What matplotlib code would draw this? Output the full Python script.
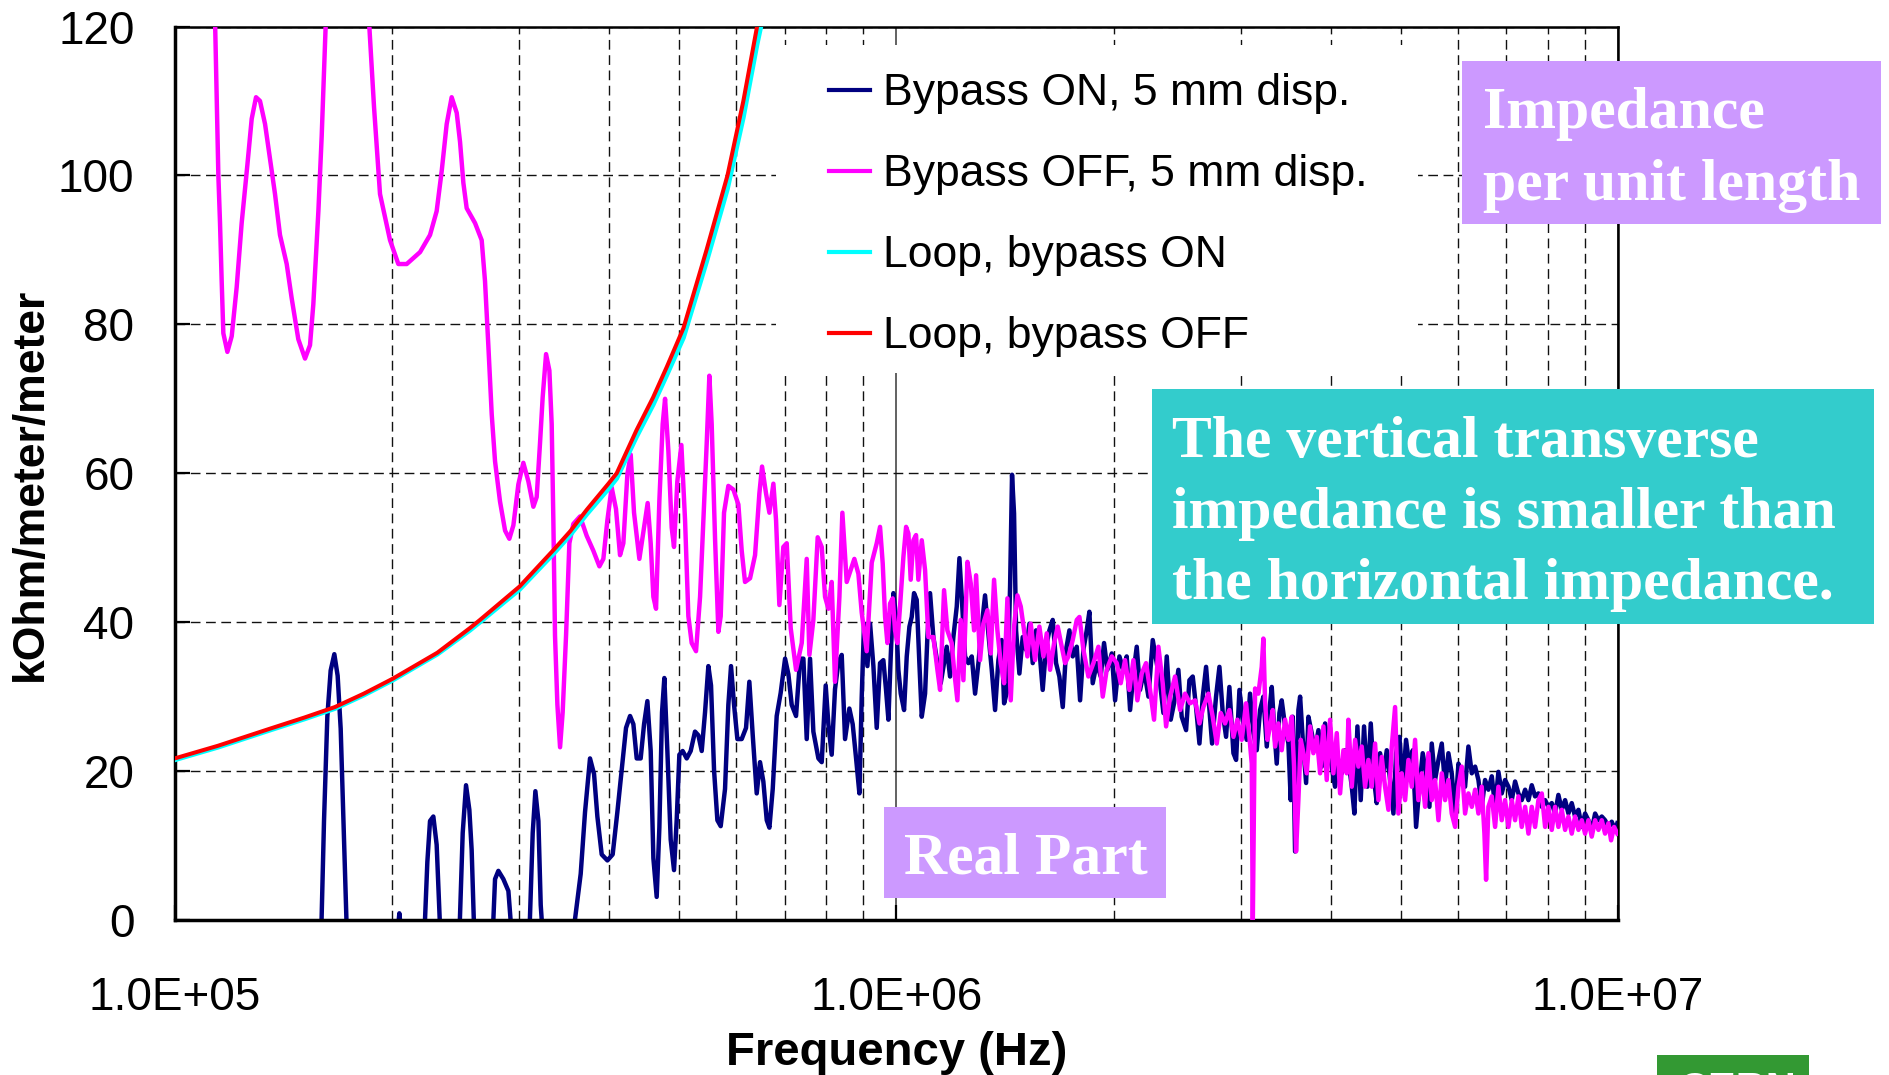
import numpy as np
import matplotlib
matplotlib.use('Agg')
import matplotlib.pyplot as plt
from matplotlib.patches import Rectangle
from matplotlib.lines import Line2D
from matplotlib.ticker import FixedLocator, FuncFormatter

plt.rcParams['font.family'] = ['Liberation Sans', 'DejaVu Sans']

# frequencies are kept as log10(f / Hz), impedance in kOhm/meter/meter
loop_logf = [5.000, 5.060, 5.129, 5.180, 5.222, 5.262, 5.302, 5.364, 5.409, 5.423,
             5.478, 5.525, 5.548, 5.571, 5.601, 5.6125, 5.640, 5.663, 5.682, 5.705,
             5.737, 5.766, 5.788, 5.807, 5.820]
loop_on = [21.5, 23.2, 25.4, 27.0, 28.4, 30.2, 32.2, 35.7, 38.9, 40.0,
           44.4, 49.2, 51.7, 54.5, 57.9, 59.3, 64.9, 69.2, 73.2, 78.2,
           88.4, 98.2, 107.8, 117.6, 123.5]
loop_off = [21.7, 23.4, 25.6, 27.2, 28.6, 30.4, 32.4, 35.9, 39.2, 40.3,
            44.8, 49.7, 52.2, 55.1, 58.6, 60.0, 65.8, 70.2, 74.3, 79.5,
            90.0, 100.0, 110.0, 120.0, 126.0]

on_logf = [
    5.0000, 5.2030, 5.2069, 5.2115, 5.2161, 5.2212, 5.2258, 5.2300, 5.2337, 5.2383,
    5.2450, 5.3050, 5.3095, 5.3113, 5.3132, 5.3200, 5.3420, 5.3460, 5.3501, 5.3538,
    5.3584, 5.3630, 5.3677, 5.3750, 5.3900, 5.3945, 5.3991, 5.4037, 5.4083, 5.4115,
    5.4148, 5.4250, 5.4370, 5.4407, 5.4439, 5.4485, 5.4554, 5.4624, 5.4670, 5.4720,
    5.4880, 5.4915, 5.4961, 5.4998, 5.5040, 5.5072, 5.5100, 5.5150, 5.5480, 5.5520,
    5.5626, 5.5686, 5.5755, 5.5811, 5.5857, 5.5917, 5.5996, 5.6069, 5.6134, 5.6194,
    5.6254, 5.6310, 5.6356, 5.6402, 5.6457, 5.6504, 5.6550, 5.6596, 5.6633, 5.6679,
    5.6716, 5.6753, 5.6785, 5.6827, 5.6873, 5.6919, 5.6956, 5.6993, 5.7039, 5.7095,
    5.7150, 5.7210, 5.7257, 5.7303, 5.7349, 5.7395, 5.7432, 5.7474, 5.7520, 5.7566,
    5.7626, 5.7672, 5.7709, 5.7751, 5.7797, 5.7857, 5.7917, 5.7963, 5.8010, 5.8065,
    5.8111, 5.8157, 5.8204, 5.8241, 5.8287, 5.8342, 5.8397, 5.8458, 5.8504, 5.8550,
    5.8610, 5.8666, 5.8712, 5.8758, 5.8804, 5.8850, 5.8920, 5.8966, 5.9021, 5.9058,
    5.9104, 5.9150, 5.9197, 5.9243, 5.9289, 5.9349, 5.9395, 5.9442, 5.9488, 5.9520,
    5.9552, 5.9599, 5.9636, 5.9682, 5.9728,
    5.9774, 5.9820, 5.9857, 5.9890, 5.9922, 5.9959, 5.9996, 6.0028, 6.0061, 6.0107,
    6.0144, 6.0181, 6.0213, 6.0245, 6.0282, 6.0319, 6.0352, 6.0398, 6.0430, 6.0467,
    6.0513, 6.0569, 6.0615, 6.0661, 6.0698, 6.0744, 6.0790, 6.0837, 6.0874, 6.0906,
    6.0952, 6.0998, 6.1045, 6.1091, 6.1137, 6.1183, 6.1229, 6.1275, 6.1322, 6.1368,
    6.1414, 6.1460, 6.1493, 6.1539, 6.1576, 6.1603, 6.1631, 6.1659, 6.1705, 6.1751,
    6.1797, 6.1844, 6.1890, 6.1936, 6.1982, 6.2028, 6.2075, 6.2121, 6.2167, 6.2213,
    6.2259, 6.2306, 6.2352, 6.2398, 6.2444, 6.2500, 6.2546, 6.2592, 6.2638, 6.2675,
    6.2721, 6.2777, 6.2832, 6.2878, 6.2924, 6.2985, 6.3031, 6.3091, 6.3146, 6.3192,
    6.3239, 6.3285, 6.3331, 6.3377, 6.3433, 6.3493, 6.3553, 6.3608, 6.3654, 6.3701,
    6.3747, 6.3802, 6.3848, 6.3908, 6.3954, 6.4015, 6.4061, 6.4107, 6.4153, 6.4200,
    6.4246, 6.4292, 6.4338, 6.4375, 6.4430, 6.4477, 6.4523, 6.4569, 6.4615, 6.4671,
    6.4708, 6.4754, 6.4809, 6.4855, 6.4901,
    6.4948, 6.4994, 6.5040, 6.5086, 6.5133, 6.5170, 6.5202, 6.5234, 6.5271, 6.5308,
    6.5340, 6.5387, 6.5433, 6.5465, 6.5493, 6.5525, 6.5571, 6.5595, 6.5632, 6.5678,
    6.5710, 6.5756, 6.5802, 6.5849, 6.5895, 6.5941, 6.5987, 6.6033, 6.6079, 6.6126,
    6.6172, 6.6218, 6.6264, 6.6311, 6.6347, 6.6389, 6.6435, 6.6481, 6.6528, 6.6574,
    6.6620, 6.6657, 6.6703, 6.6749, 6.6796, 6.6842, 6.6888, 6.6925, 6.6971, 6.7017,
    6.7063, 6.7110, 6.7156, 6.7202, 6.7248, 6.7294, 6.7341, 6.7387, 6.7419, 6.7465,
    6.7512, 6.7558, 6.7604, 6.7650, 6.7696, 6.7743, 6.7789, 6.7835, 6.7881, 6.7927,
    6.7974, 6.8020, 6.8066, 6.8112, 6.8158, 6.8204, 6.8251, 6.8297, 6.8343, 6.8389,
    6.8435, 6.8482, 6.8528, 6.8574, 6.8620, 6.8666, 6.8713, 6.8759, 6.8805, 6.8851,
    6.8897, 6.8944, 6.8990, 6.9036, 6.9082, 6.9128, 6.9174, 6.9221, 6.9267, 6.9313,
    6.9359, 6.9405, 6.9452, 6.9498, 6.9544, 6.9590, 6.9636, 6.9683, 6.9729, 6.9775,
    6.9821, 6.9867, 6.9913, 6.9960, 6.9990]
on_z = [
    -10, -2, 13.3, 27.3, 33.5, 35.7, 32.8, 25.7, 14.0, -1.0,
    -10, -10, -1.0, 0.9, -1.0, -10, -10, -2, 7.8, 13.3,
    13.9, 10.1, -1.0, -10, -10, -2, 11.7, 18.1, 14.8, 9.4,
    -1.0, -10, -10, -2, 5.5, 6.6, 5.5, 3.9, -2, -10,
    -10, -2, 11.7, 17.3, 13.3, 2.0, -2, -10, -10, -2,
    6.2, 14.5, 21.7, 19.6, 13.9, 8.8, 8.0, 8.8, 14.5, 20.1,
    25.8, 27.4, 26.3, 21.7, 21.7, 26.3, 29.4, 22.7, 8.3, 3.1,
    12.4, 27.9, 32.5, 22.7, 10.8, 6.7, 13.4, 22.2, 22.7, 21.7,
    22.7, 25.3, 24.8, 22.7, 27.9, 34.1, 31.5, 20.1, 13.4, 12.6,
    17.6, 28.9, 34.1, 28.9, 24.3, 24.3, 25.8, 32.0, 24.8, 17.0,
    21.2, 18.6, 13.4, 12.4, 17.6, 27.4, 30.5, 35.1, 33.0, 28.9,
    27.4, 35.1, 35.1, 24.3, 35.1, 25.3, 21.7, 21.2, 31.5, 26.3,
    22.2, 31.0, 34.6, 35.6, 24.3, 28.4, 26.3, 21.7, 17.0, 29.9,
    39.8, 34.1, 39.8, 34.1, 25.8,
    34.5, 34.9, 30.9, 26.9, 35.4, 43.9, 40.7, 33.6, 30.4, 28.2,
    35.4, 39.4, 40.7, 43.9, 43.0, 34.5, 27.3, 30.4, 38.0, 43.9,
    38.0, 34.5, 31.8, 34.5, 36.7, 32.7, 38.0, 42.1, 48.6, 43.4,
    35.4, 34.5, 35.4, 30.4, 34.5, 39.4, 43.6, 38.5, 33.6, 28.2,
    34.9, 37.6, 29.1, 30.9, 44.8, 59.8, 54.6, 38.9, 33.1, 38.0,
    36.3, 39.8, 34.5, 38.9, 36.3, 30.9, 36.7, 38.9, 40.3, 34.5,
    32.7, 28.6, 36.3, 38.9, 35.4, 36.7, 29.5, 36.3, 38.9, 41.4,
    31.8, 34.5, 32.7, 37.2, 33.6, 35.8, 29.5, 35.4, 33.6, 35.4,
    28.2, 33.1, 36.7, 30.9, 33.6, 30.0, 37.6, 34.5, 31.8, 27.8,
    35.4, 26.9, 29.1, 33.6, 27.3, 25.5, 32.2, 32.7, 28.6, 23.7,
    30.0, 34.0, 28.2, 23.7, 30.0, 34.0, 27.8, 24.6, 31.3, 22.4,
    21.5, 30.9, 26.4, 24.2, 30.4,
    25.1, 22.8, 28.2, 30.0, 23.3, 28.2, 31.3, 26.0, 21.0, 27.8,
    29.5, 26.0, 23.7, 16.1, 27.3, 9.2, 28.2, 30.0, 24.2, 18.4,
    27.3, 25.1, 22.8, 25.5, 20.6, 26.4, 22.8, 20.6, 17.9, 21.5,
    19.7, 22.8, 21.5, 17.9, 14.3, 26.0, 16.1, 26.0, 17.9, 26.4,
    18.8, 15.7, 22.4, 19.7, 22.8, 18.8, 14.3, 22.4, 24.6, 17.9,
    24.2, 20.6, 22.8, 12.5, 17.9, 22.4, 19.7, 15.2, 23.7, 18.8,
    21.5, 23.7, 17.9, 22.4, 19.7, 14.3, 21.0, 19.7, 17.9, 23.3,
    19.7, 20.6, 18.8, 15.2, 18.8, 17.5, 19.3, 15.2, 19.9, 17.0,
    18.8, 17.9, 16.1, 18.6, 17.0, 16.1, 17.5, 16.1, 18.1, 16.6,
    17.0, 15.2, 16.1, 15.2, 15.7, 14.3, 16.8, 14.8, 16.1, 14.3,
    15.7, 13.9, 14.8, 12.5, 14.3, 13.4, 12.1, 14.3, 13.4, 13.9,
    13.4, 12.5, 13.2, 12.1, 13.0]

off_logf = [
    5.0550, 5.0605, 5.0628, 5.0651, 5.0674, 5.0730, 5.0790, 5.0859, 5.0928, 5.1007,
    5.1067, 5.1127, 5.1182, 5.1252, 5.1321, 5.1390, 5.1459, 5.1552, 5.1621, 5.1713,
    5.1806, 5.1875, 5.1921, 5.1991, 5.2037, 5.2083, 5.2129, 5.2400, 5.2660, 5.2697,
    5.2762, 5.2845, 5.2984, 5.3099, 5.3215, 5.3400, 5.3538, 5.3630, 5.3700, 5.3769,
    5.3838, 5.3908, 5.3954, 5.4000, 5.4046, 5.4162, 5.4254, 5.4300, 5.4346, 5.4393,
    5.4439, 5.4508, 5.4578, 5.4637, 5.4693, 5.4762, 5.4831, 5.4901, 5.4970, 5.5016,
    5.5062, 5.5099, 5.5146, 5.5192, 5.5224, 5.5247, 5.5270, 5.5303, 5.5340, 5.5376,
    5.5423, 5.5469, 5.5524, 5.5617, 5.5709, 5.5801, 5.5885, 5.5940, 5.5996, 5.6055,
    5.6115, 5.6171, 5.6217, 5.6273, 5.6319, 5.6365, 5.6439, 5.6494, 5.6554, 5.6596,
    5.6633, 5.6670, 5.6716, 5.6762, 5.6795, 5.6841, 5.6887, 5.6919, 5.6965, 5.7021,
    5.7072, 5.7118, 5.7164, 5.7224, 5.7280, 5.7326, 5.7372, 5.7409, 5.7441, 5.7488,
    5.7534, 5.7566, 5.7612, 5.7672, 5.7742, 5.7811, 5.7857, 5.7903, 5.7973, 5.8042,
    5.8102, 5.8139, 5.8194, 5.8241, 5.8296, 5.8333, 5.8379, 5.8434, 5.8481, 5.8536,
    5.8610, 5.8689, 5.8758, 5.8795, 5.8850, 5.8910, 5.8966, 5.9012, 5.9058, 5.9104,
    5.9150, 5.9211, 5.9252, 5.9312, 5.9418, 5.9474, 5.9520, 5.9589, 5.9659, 5.9728,
    5.9774, 5.9811, 5.9844, 5.9876, 5.9913, 5.9950, 5.9982, 6.0014, 6.0051, 6.0098,
    6.0135, 6.0167, 6.0199, 6.0236, 6.0273, 6.0305, 6.0352, 6.0398, 6.0444, 6.0513,
    6.0569, 6.0606, 6.0661, 6.0707, 6.0767, 6.0800, 6.0846, 6.0892, 6.0929, 6.0985,
    6.1031, 6.1077, 6.1105, 6.1160, 6.1206, 6.1262, 6.1308, 6.1354, 6.1400, 6.1446,
    6.1493, 6.1539, 6.1585, 6.1631, 6.1677, 6.1724, 6.1770, 6.1816, 6.1862, 6.1922,
    6.1982, 6.2038, 6.2084, 6.2130, 6.2186, 6.2236, 6.2292, 6.2338, 6.2384, 6.2444,
    6.2500, 6.2537, 6.2592, 6.2661, 6.2731, 6.2800, 6.2860, 6.2915, 6.2985, 6.3054,
    6.3109, 6.3169, 6.3229, 6.3285, 6.3340, 6.3400, 6.3460, 6.3516, 6.3571, 6.3631,
    6.3691, 6.3738, 6.3793, 6.3862, 6.3932, 6.4001, 6.4070, 6.4140, 6.4200, 6.4255,
    6.4324, 6.4384, 6.4440, 6.4495, 6.4555, 6.4615, 6.4671, 6.4726, 6.4786, 6.4846,
    6.4892, 6.4925, 6.4939, 6.4971, 6.5017, 6.5063, 6.5086, 6.5109, 6.5142, 6.5179,
    6.5216, 6.5248, 6.5294, 6.5340, 6.5387, 6.5433, 6.5479, 6.5511, 6.5539, 6.5571,
    6.5604, 6.5641, 6.5687, 6.5733, 6.5779, 6.5826, 6.5872, 6.5918, 6.5964, 6.6010,
    6.6056, 6.6103, 6.6149, 6.6195, 6.6241, 6.6264, 6.6311, 6.6357, 6.6403, 6.6449,
    6.6495, 6.6541, 6.6588, 6.6634, 6.6680, 6.6726, 6.6772, 6.6819, 6.6865, 6.6911,
    6.6957, 6.7003, 6.7050, 6.7096, 6.7142, 6.7188, 6.7234, 6.7281, 6.7327, 6.7373,
    6.7419, 6.7465, 6.7512, 6.7558, 6.7604, 6.7650, 6.7696, 6.7743, 6.7789, 6.7835,
    6.7881, 6.7927, 6.7974, 6.8020, 6.8066, 6.8112, 6.8149, 6.8172, 6.8204, 6.8251,
    6.8297, 6.8343, 6.8389, 6.8435, 6.8482, 6.8528, 6.8574, 6.8620, 6.8666, 6.8713,
    6.8759, 6.8805, 6.8851, 6.8897, 6.8944, 6.8990, 6.9036, 6.9082, 6.9128, 6.9174,
    6.9221, 6.9267, 6.9313, 6.9359, 6.9405, 6.9452, 6.9498, 6.9544, 6.9590, 6.9636,
    6.9683, 6.9729, 6.9775, 6.9821, 6.9867, 6.9904, 6.9946, 6.9990]
off_z = [
    125.0, 100.0, 93.6, 85.8, 78.8, 76.3, 78.4, 85.0, 93.6, 101.4,
    107.6, 110.5, 110.0, 106.9, 102.2, 97.5, 92.0, 88.1, 83.5, 78.0,
    75.4, 77.2, 82.7, 95.2, 105.3, 117.8, 130.0, 150.0, 130.0, 120.0,
    109.2, 97.5, 91.3, 88.1, 88.1, 89.7, 92.0, 95.2, 100.6, 106.9,
    110.5, 108.4, 104.5, 99.0, 95.6, 93.6, 91.3, 85.8, 77.2, 67.9,
    61.6, 56.2, 52.3, 51.2, 53.0, 58.5, 61.4, 58.9, 55.5, 56.8,
    64.0, 70.2, 76.0, 73.8, 66.6, 53.7, 38.2, 28.9, 23.2, 27.9,
    38.2, 50.6, 53.2, 54.2, 51.6, 49.6, 47.5, 48.5, 53.7, 58.1,
    55.2, 49.0, 50.6, 59.9, 62.5, 54.7, 48.5, 52.1, 56.0, 50.6,
    43.4, 41.8, 56.3, 66.6, 70.0, 63.0, 52.7, 50.1, 58.9, 63.8,
    53.7, 40.8, 37.2, 36.1, 43.4, 53.7, 64.0, 73.1, 66.6, 51.1,
    38.7, 40.8, 54.7, 58.3, 57.8, 55.8, 49.6, 45.4, 45.9, 49.0,
    57.3, 60.9, 57.3, 54.7, 58.6, 53.7, 42.3, 50.1, 50.6, 39.2,
    33.6, 37.2, 48.5, 35.6, 40.3, 51.4, 50.1, 43.4, 41.8, 45.4,
    32.0, 43.4, 54.7, 45.4, 48.5, 46.5, 41.3, 36.1, 48.0, 50.6,
    52.8, 47.9, 40.7, 37.2, 42.5, 43.2, 38.9, 37.2, 42.1, 48.8,
    52.8, 51.9, 45.7, 51.0, 51.7, 45.7, 51.0, 47.0, 38.0, 38.0,
    33.6, 30.9, 44.3, 38.9, 37.2, 33.6, 29.5, 40.3, 32.2, 48.1,
    45.2, 38.9, 46.3, 34.9, 39.8, 41.6, 35.8, 45.7, 38.9, 34.5,
    31.8, 43.2, 29.5, 39.4, 43.6, 42.1, 38.9, 35.4, 39.8, 34.9,
    39.4, 35.4, 38.5, 33.6, 37.2, 39.4, 36.7, 34.5, 35.4, 37.6,
    40.3, 40.7, 36.3, 32.7, 34.5, 36.7, 30.0, 33.6, 35.4, 34.5,
    31.8, 34.9, 30.9, 34.9, 29.5, 33.1, 34.5, 30.9, 26.9, 36.7,
    31.8, 26.0, 30.0, 32.7, 28.2, 30.4, 29.1, 29.5, 26.4, 28.6,
    30.4, 27.3, 23.7, 27.8, 26.4, 28.2, 24.6, 26.9, 24.2, 29.1,
    24.6, 21.0, -1.0, 31.1, 30.4, 34.0, 37.8, 29.5, 24.2, 26.0,
    28.2, 23.3, 26.4, 22.8, 26.9, 24.2, 27.3, 20.6, 9.2, 16.1,
    24.2, 22.4, 19.7, 26.0, 22.4, 24.6, 19.7, 26.0, 18.8, 26.9,
    19.7, 25.1, 17.0, 22.8, 19.7, 26.9, 17.9, 24.2, 20.6, 23.3,
    17.9, 21.5, 17.9, 23.7, 16.1, 21.9, 17.9, 14.8, 23.3, 28.6,
    14.3, 19.7, 16.1, 21.5, 17.9, 24.2, 16.1, 19.7, 15.2, 22.4,
    16.1, 18.8, 13.4, 19.7, 16.1, 18.8, 14.3, 12.5, 17.9, 20.6,
    14.3, 17.0, 15.2, 17.5, 14.3, 17.9, 11.6, 5.4, 15.2, 16.6,
    12.5, 17.9, 13.4, 16.1, 12.5, 16.1, 13.4, 16.6, 12.5, 15.2,
    11.6, 15.2, 12.5, 16.1, 17.0, 12.5, 15.2, 12.1, 15.2, 12.5,
    14.8, 12.1, 13.9, 11.6, 13.9, 12.1, 13.4, 11.6, 13.4, 11.2,
    13.4, 12.1, 13.4, 11.6, 13.0, 10.7, 12.5, 11.6]

labels = ['Bypass ON, 5 mm disp.', 'Bypass OFF, 5 mm disp.',
          'Loop, bypass ON', 'Loop, bypass OFF']

W, H = 1889, 1075
fig = plt.figure(figsize=(W / 100, H / 100), dpi=100)
ax = fig.add_axes([174.7 / W, 1 - 920 / H, 1443.3 / W, 893.5 / H])
ax.set_xscale('log')
ax.set_xlim(1e5, 1e7)
ax.set_ylim(0, 120)
ax.set_axisbelow(True)

ax.plot(10 ** np.array(on_logf), on_z, color='#000080', lw=3.2, zorder=2)
ax.plot(10 ** np.array(off_logf), off_z, color='#FF00FF', lw=3.2, zorder=3)
ax.plot(10 ** np.array(loop_logf), loop_on, color='#00FFFF', lw=3.4, zorder=4)
ax.plot(10 ** np.array(loop_logf), loop_off, color='#FF0000', lw=2.9, zorder=5)

# grid: dashed minor decades, solid major, dashed horizontals
ax.xaxis.set_major_locator(FixedLocator([1e5, 1e6, 1e7]))
ax.xaxis.set_minor_locator(FixedLocator([k * 10.0 ** e for e in (5, 6) for k in range(2, 10)]))
ax.xaxis.set_major_formatter(FuncFormatter(lambda x, pos: '%.1E' % x))
ax.yaxis.set_major_locator(FixedLocator([0, 20, 40, 60, 80, 100, 120]))
ax.xaxis.grid(True, which='minor', color='#111111', lw=1.0, linestyle=(0, (7, 4)))
ax.xaxis.grid(True, which='major', color='#555555', lw=1.3, linestyle='-')
ax.yaxis.grid(True, which='major', color='#111111', lw=1.0, linestyle=(0, (7, 4)))

ax.tick_params(axis='both', which='major', direction='in', length=11, width=1.6,
               labelsize=33, colors='black')
ax.tick_params(axis='x', which='major', pad=40, top=False)
ax.tick_params(axis='y', which='major', pad=29, right=False)
ax.tick_params(axis='x', which='minor', length=0)
for side in ('left', 'bottom'):
    ax.spines[side].set_linewidth(2.5)
for side in ('top', 'right'):
    ax.spines[side].set_linewidth(1.8)

ax.set_xlabel('Frequency (Hz)', fontsize=34, fontweight='bold', labelpad=8)
ax.set_ylabel('kOhm/meter/meter', fontsize=32, fontweight='bold', va='center')
ax.yaxis.set_label_coords(-0.1003, 0.487)

# white panel behind the legend hides the grid there
ax.add_patch(Rectangle((0.4166, 0.6122), 0.4448, 0.3671, transform=ax.transAxes,
                       facecolor='white', edgecolor='none', zorder=1))
handles = [Line2D([], [], color=c, lw=3) for c in ('#000080', '#FF00FF', '#00FFFF', '#FF0000')]
ax.legend(handles, labels, loc='upper left', bbox_to_anchor=(0.4533, 0.9476),
          frameon=False, prop={'family': 'Liberation Sans', 'size': 32},
          handlelength=0.92, handletextpad=0.29, labelspacing=0.90,
          borderpad=0, borderaxespad=0)


def panel(x0, y0, x1, y1, color):
    fig.add_artist(Rectangle((x0 / W, 1 - y1 / H), (x1 - x0) / W, (y1 - y0) / H,
                             transform=fig.transFigure, facecolor=color,
                             edgecolor='none', zorder=10))


def note(x, y, s, size=43):
    fig.text(x / W, 1 - y / H, s, color='white', fontsize=size, fontweight='bold',
             family=['Liberation Serif', 'DejaVu Serif'], ha='left', va='baseline', zorder=11)


panel(1462, 61, 1881, 224, '#CC99FF')
note(1483, 128, 'Impedance')
note(1483, 200, 'per unit length')

panel(1152, 389, 1874, 624, '#33CCCC')
note(1172, 457, 'The vertical transverse')
note(1172, 528, 'impedance is smaller than')
note(1172, 599, 'the horizontal impedance.')

panel(884, 807, 1166, 898, '#CC99FF')
note(904, 873, 'Real Part')

# green badge sits at the bottom edge, its lettering mostly below the page
panel(1657, 1055, 1809, 1090, '#339933')
fig.text(1678 / W, 1 - 1071 / H, 'CERN', color='white', fontsize=30, fontweight='bold',
         ha='left', va='top', zorder=11)

fig.savefig('out.png', dpi=100)
